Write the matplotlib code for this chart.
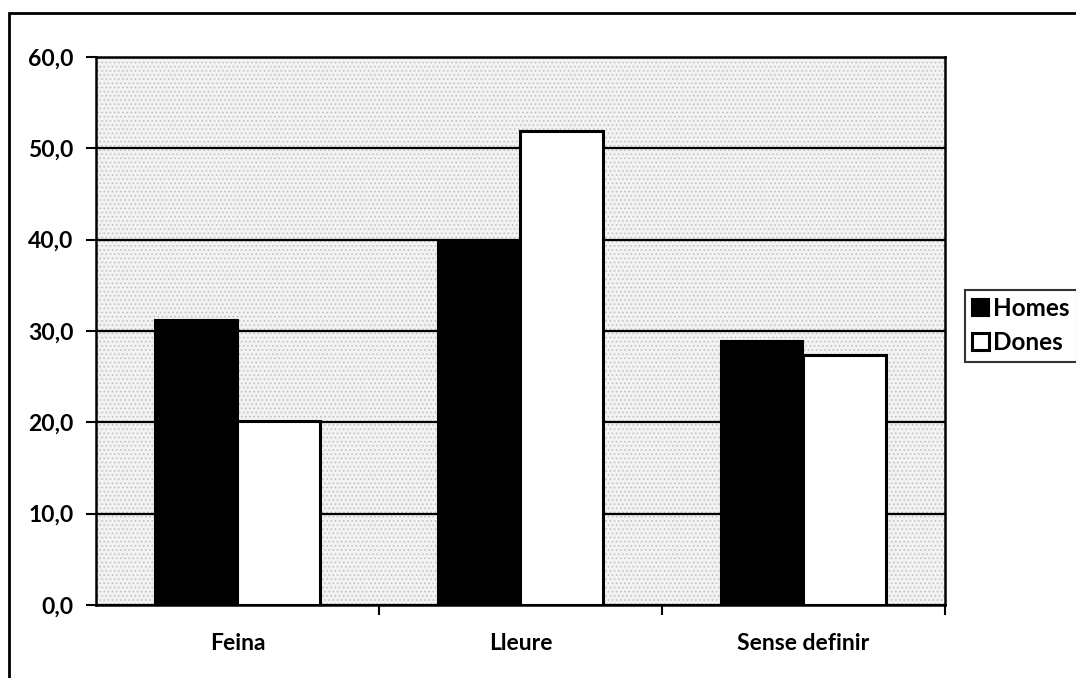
import matplotlib
matplotlib.use("Agg")
import matplotlib.pyplot as plt
import numpy as np
from matplotlib.patches import Rectangle

categories = ["Feina", "Lleure", "Sense definir"]
homes = [31.2, 39.8, 28.9]
dones = [20.2, 51.9, 27.4]
yticks = [0, 10, 20, 30, 40, 50, 60]
ytick_labels = ["0,0", "10,0", "20,0", "30,0", "40,0", "50,0", "60,0"]

plt.rcParams["font.family"] = ["Lato", "DejaVu Sans"]
plt.rcParams["font.weight"] = "bold"
plt.rcParams["hatch.linewidth"] = 0.6

fig = plt.figure(figsize=(10.76, 6.78), dpi=100)
ax = fig.add_axes([96 / 1076, 1 - 605 / 678, 849 / 1076, 548 / 678])

# stippled plot background
ax.add_patch(Rectangle((0, 0), 1, 1, transform=ax.transAxes, facecolor="#f2f2f2",
                       edgecolor="#bdbdbd", hatch="....", lw=0, zorder=0))
ax.set_facecolor("white")

x = np.arange(len(categories))
w = 0.29
ax.bar(x - w / 2, homes, w, color="black", edgecolor="black", lw=1.5,
       label="Homes", zorder=3)
ax.bar(x + w / 2, dones, w, color="white", edgecolor="black", lw=2.2,
       label="Dones", zorder=3)

ax.set_xlim(-0.5, 2.5)
ax.set_ylim(0, 60)
ax.set_yticks(yticks)
ax.set_yticklabels(ytick_labels, fontsize=16.5, fontweight="bold")
ax.yaxis.grid(True, color="black", lw=1.6, zorder=1)
ax.set_axisbelow(True)

# category labels centred, ticks on category boundaries
ax.set_xticks([0.5, 1.5, 2.5])
ax.set_xticklabels([])
ax.set_xticks(x, minor=True)
ax.set_xticklabels(categories, minor=True, fontsize=16.5, fontweight="bold")
ax.tick_params(axis="x", which="minor", length=0, pad=20)
ax.tick_params(axis="x", which="major", length=7, width=1.5, direction="out")
ax.tick_params(axis="y", length=7, width=1.5, pad=9)

for s in ax.spines.values():
    s.set_linewidth(1.8)
    s.set_color("black")

leg = ax.legend(loc="upper left", bbox_to_anchor=(965 / 1076, 1 - 290 / 678),
                bbox_transform=fig.transFigure, fontsize=17.5, frameon=True,
                fancybox=False, handlelength=0.7, handleheight=0.7,
                handletextpad=0.15, borderpad=0.3, labelspacing=0.45,
                borderaxespad=0)
leg.get_frame().set_edgecolor("black")
leg.get_frame().set_linewidth(1.5)

# outer chart frame
fig.patches.append(Rectangle((9 / 1076, -0.05), 1.1, 1 - 13 / 678 + 0.05,
                             transform=fig.transFigure, fill=False,
                             edgecolor="black", lw=2))

fig.savefig("out.png", dpi=100)
